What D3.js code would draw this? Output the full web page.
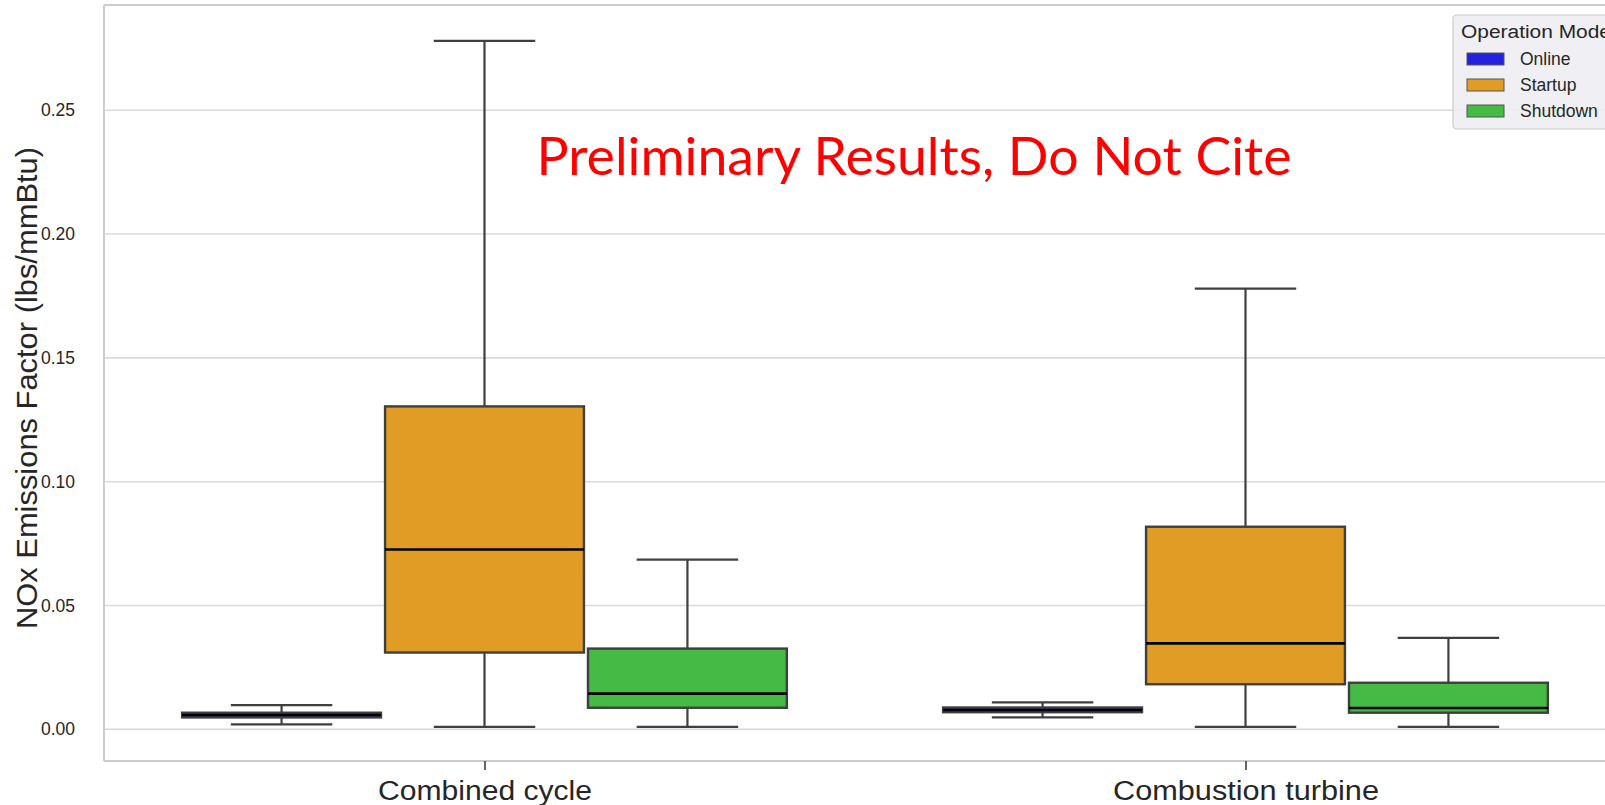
<!DOCTYPE html>
<html>
<head>
<meta charset="utf-8">
<script src="https://cdn.jsdelivr.net/npm/d3@7"></script>
<style>
  html, body { margin: 0; padding: 0; background: #ffffff; }
  svg { display: block; }
</style>
</head>
<body>
<svg id="chart" width="1605" height="805"></svg>
<script>
// ---- data ----
const categories = ["Combined cycle", "Combustion turbine"];
const modes = ["Online", "Startup", "Shutdown"];
const modeColors = ["#2323df", "#e09c24", "#45bb45"];
// five-number summaries per category: [whiskerLow, q1, median, q3, whiskerHigh]
const onlineStats   = [[0.0020, 0.0048, 0.0058, 0.0067, 0.0098], [0.0048, 0.0069, 0.0078, 0.0088, 0.0109]];
const startupStats  = [[0.0010, 0.0310, 0.0726, 0.1304, 0.2780], [0.0010, 0.0182, 0.0347, 0.0818, 0.1780]];
const shutdownStats = [[0.0010, 0.0087, 0.0144, 0.0326, 0.0685], [0.0010, 0.0067, 0.0086, 0.0188, 0.0369]];
const yTicks = [0.00, 0.05, 0.10, 0.15, 0.20, 0.25];
const yLabel = "NOx Emissions Factor (lbs/mmBtu)";
const legendTitle = "Operation Mode";
const watermark = "Preliminary Results, Do Not Cite";

const seriesStats = [onlineStats, startupStats, shutdownStats];

const svg = d3.select("#chart");
const W = 1605, H = 805;
const plot = { left: 104, right: 1626, top: 5, bottom: 761 };

const x = d3.scaleLinear().domain([-0.5, 1.5]).range([plot.left, plot.right]);
const y = d3.scaleLinear().domain([-0.0128, 0.2921]).range([plot.bottom, plot.top + 1]);

const unit = x(1) - x(0);
const slot = 0.8 / modes.length;
const boxW = slot * unit * 0.98;
const capW = slot * unit * 0.5;

// gridlines
svg.append("g").selectAll("line").data(yTicks).join("line")
  .attr("x1", plot.left).attr("x2", W)
  .attr("y1", d => y(d)).attr("y2", d => y(d))
  .attr("stroke", "#d9d9d9").attr("stroke-width", 1.6);

// spines
svg.append("line").attr("x1", plot.left).attr("x2", plot.left).attr("y1", plot.top).attr("y2", plot.bottom)
  .attr("stroke", "#cccccc").attr("stroke-width", 2);
svg.append("line").attr("x1", plot.left).attr("x2", W).attr("y1", plot.top).attr("y2", plot.top)
  .attr("stroke", "#cccccc").attr("stroke-width", 2);
svg.append("line").attr("x1", plot.left).attr("x2", W).attr("y1", plot.bottom).attr("y2", plot.bottom)
  .attr("stroke", "#cccccc").attr("stroke-width", 2);

// y tick labels
const yAxis = d3.axisLeft(y).tickValues(yTicks).tickFormat(d3.format(".2f")).tickSize(0).tickPadding(29);
const gy = svg.append("g").attr("transform", `translate(${plot.left},0)`).call(yAxis);
gy.select(".domain").remove();
gy.selectAll("text").attr("font-family", "Liberation Sans, Arial, sans-serif").attr("font-size", 17.5).attr("fill", "#262626");

// x axis ticks and labels
const xAxis = d3.axisBottom(x).tickValues([0, 1]).tickFormat(i => categories[i]).tickSize(9).tickPadding(10);
const gx = svg.append("g").attr("transform", `translate(0,${plot.bottom})`).call(xAxis);
gx.select(".domain").remove();
gx.selectAll("line").attr("stroke", "#333333").attr("stroke-width", 1.5);
gx.selectAll("text").attr("font-family", "Liberation Sans, Arial, sans-serif").attr("font-size", 27).attr("fill", "#262626")
  .attr("dy", "0.75em")
  .attr("textLength", (d, i) => i === 0 ? 214 : 266).attr("lengthAdjust", "spacingAndGlyphs");

// y label
svg.append("text")
  .attr("transform", `translate(37, 388) rotate(-90)`)
  .attr("text-anchor", "middle")
  .attr("font-family", "Liberation Sans, Arial, sans-serif")
  .attr("font-size", 30).attr("fill", "#262626")
  .attr("textLength", 482).attr("lengthAdjust", "spacingAndGlyphs")
  .text(yLabel);

// boxes
const edge = "#3f3f3f";
modes.forEach((m, mi) => {
  const g = svg.append("g");
  const data = seriesStats[mi].map((s, ci) => ({ s, cx: x(ci + (mi - 1) * slot) }));
  // whiskers
  g.selectAll("line.wl").data(data).join("line")
    .attr("x1", d => d.cx).attr("x2", d => d.cx)
    .attr("y1", d => y(d.s[0])).attr("y2", d => y(d.s[1]))
    .attr("stroke", edge).attr("stroke-width", 2.2);
  g.selectAll("line.wh").data(data).join("line")
    .attr("x1", d => d.cx).attr("x2", d => d.cx)
    .attr("y1", d => y(d.s[3])).attr("y2", d => y(d.s[4]))
    .attr("stroke", edge).attr("stroke-width", 2.2);
  // caps
  [0, 4].forEach(k => {
    g.selectAll(null).data(data).join("line")
      .attr("x1", d => d.cx - capW / 2).attr("x2", d => d.cx + capW / 2)
      .attr("y1", d => y(d.s[k])).attr("y2", d => y(d.s[k]))
      .attr("stroke", edge).attr("stroke-width", 2.2);
  });
  // box
  g.selectAll("rect").data(data).join("rect")
    .attr("x", d => d.cx - boxW / 2).attr("width", boxW)
    .attr("y", d => y(d.s[3])).attr("height", d => y(d.s[1]) - y(d.s[3]))
    .attr("fill", modeColors[mi]).attr("stroke", edge).attr("stroke-width", 2.4);
  // median
  g.selectAll("line.med").data(data).join("line")
    .attr("x1", d => d.cx - boxW / 2).attr("x2", d => d.cx + boxW / 2)
    .attr("y1", d => y(d.s[2])).attr("y2", d => y(d.s[2]))
    .attr("stroke", "#000000").attr("stroke-width", 2.6);
});

// watermark
svg.append("text")
  .attr("x", 914).attr("y", 175)
  .attr("text-anchor", "middle")
  .attr("font-family", "Lato, 'Open Sans', sans-serif")
  .attr("font-size", 52).attr("fill", "#ff0000")
  .attr("textLength", 755).attr("lengthAdjust", "spacingAndGlyphs")
  .text(watermark);

// legend
const lg = svg.append("g");
lg.append("rect").attr("x", 1453).attr("y", 15).attr("width", 190).attr("height", 114)
  .attr("rx", 4).attr("fill", "#eeeef3").attr("fill-opacity", 0.9).attr("stroke", "#cccccc").attr("stroke-width", 1.2);
lg.append("text").attr("x", 1461).attr("y", 38)
  .attr("font-family", "Liberation Sans, Arial, sans-serif").attr("font-size", 18).attr("fill", "#262626")
  .attr("textLength", 150).attr("lengthAdjust", "spacingAndGlyphs")
  .text(legendTitle);
const items = lg.selectAll("g.item").data(modes).join("g")
  .attr("transform", (d, i) => `translate(0, ${59 + i * 26})`);
items.append("rect").attr("x", 1467).attr("y", -6).attr("width", 37).attr("height", 12)
  .attr("fill", (d, i) => modeColors[i]).attr("stroke", "#555555").attr("stroke-width", 1);
items.append("text").attr("x", 1520).attr("y", 6)
  .attr("font-family", "Liberation Sans, Arial, sans-serif").attr("font-size", 17.5).attr("fill", "#262626")
  .text(d => d);
</script>
</body>
</html>
